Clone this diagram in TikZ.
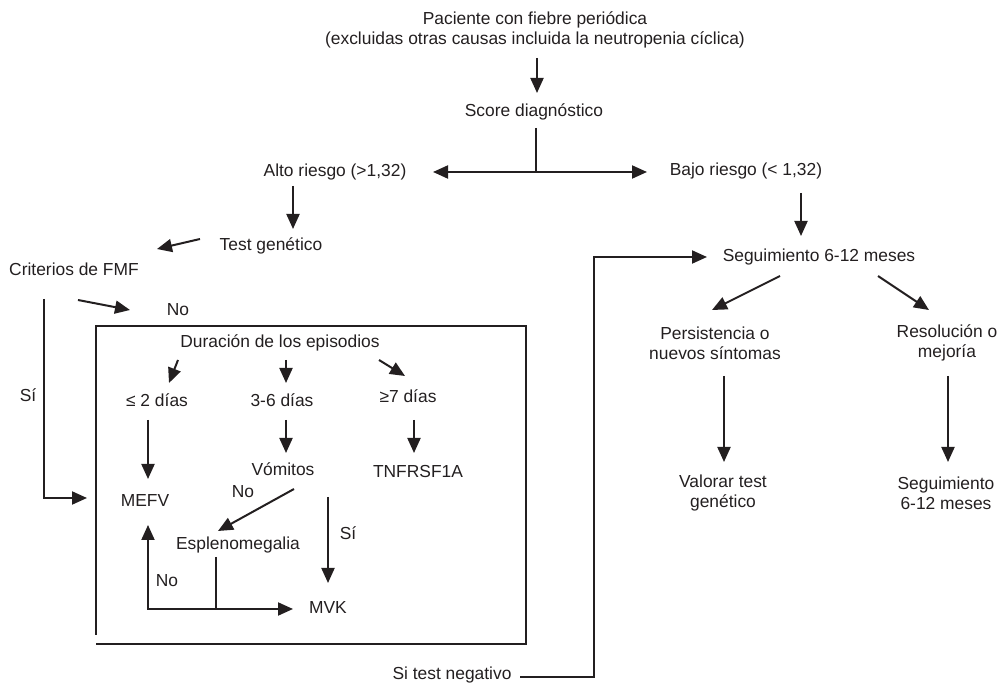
\documentclass[tikz,border=0pt]{standalone}
\usepackage{fontspec}
\setmainfont{Liberation Sans}
\usetikzlibrary{arrows.meta, calc}
\definecolor{ink}{RGB}{35, 31, 32}
\tikzset{
  txt/.style={
    inner sep=0pt, align=center, text=ink,
    font=\fontsize{8.7}{10}\selectfont
  },
  lnk/.style={draw=ink, line width=1pt},
  arr/.style={lnk, -{Triangle[length=7.5pt, width=6.5pt]}},
  darr/.style={lnk, {Triangle[length=7.5pt, width=6.5pt]}-{Triangle[length=7.5pt, width=6.5pt]}},
}

\begin{document}
\begin{tikzpicture}[x=0.5pt, y=-0.5pt]

  \useasboundingbox (0, 0) rectangle (998, 684);

  %% ── Top of the chart ───────────────────────────────────────────────────────

  \node[txt] (pac) at (535, 30)
    {Paciente con fiebre periódica\\(excluidas otras causas incluida la neutropenia cíclica)};
  \node[txt] (score) at (534, 112) {Score diagnóstico};
  \node[txt] (alto)  at (335, 172) {Alto riesgo (>1,32)};
  \node[txt] (bajo)  at (746, 171) {Bajo riesgo (< 1,32)};

  \draw[arr] ($(pac)+(2,28)$) -- ($(score)+(3,-19)$);
  \coordinate (split) at ($(score)+(2,60)$);
  \draw[lnk] ($(score)+(2,16)$) -- (split);
  \draw[darr] ($(alto)+(98,0)$) -- ($(bajo)+(-99,1)$);

  %% ── High risk branch ───────────────────────────────────────────────────────

  \node[txt] (tgen) at (271, 246) {Test genético};
  \node[txt] (crit) at (74, 269)  {Criterios de FMF};
  \node[txt] (no1)  at (178, 310) {No};
  \node[txt] (si1)  at (28, 395)  {Sí};

  \draw[arr] ($(alto)+(-42,14)$) -- ($(tgen)+(22,-17)$);
  \draw[arr] ($(tgen)+(-71,-7)$) -- ($(crit)+(83,-20)$);
  \draw[arr] ($(crit)+(4,31)$) -- ($(no1)+(-48,0)$);

  %% ── Duration box ───────────────────────────────────────────────────────────

  \draw[lnk] (96, 635) -- (96, 326) -- (526, 326) -- (526, 644) -- (96, 644);

  \node[txt] (dur)  at (280, 343) {Duración de los episodios};
  \node[txt] (d2)   at (157, 400) {≤ 2 días};
  \node[txt] (d36)  at (282, 400) {3-6 días};
  \node[txt] (d7)   at (408, 396) {≥7 días};
  \node[txt] (mefv) at (145, 501) {MEFV};
  \node[txt] (vom)  at (283, 469) {Vómitos};
  \node[txt] (tnf)  at (418, 472) {TNFRSF1A};
  \node[txt] (no2)  at (243, 492) {No};
  \node[txt] (esp)  at (238, 545) {Esplenomegalia};
  \node[txt] (si2)  at (348, 533) {Sí};
  \node[txt] (no3)  at (167, 581) {No};
  \node[txt] (mvk)  at (328, 608) {MVK};

  \draw[arr] ($(crit)+(-30,30)$) |- ($(mefv)+(-58,-3)$);

  \draw[arr] ($(dur)+(-102,17)$) -- ($(d2)+(12,-17)$);
  \draw[arr] ($(dur)+(6,17)$)    -- ($(d36)+(4,-17)$);
  \draw[arr] ($(dur)+(99,17)$)   -- ($(d7)+(-3,-20)$);

  \draw[arr] ($(d2)+(-9,20)$)  -- ($(mefv)+(3,-22)$);
  \draw[arr] ($(d36)+(4,20)$)  -- ($(vom)+(3,-16)$);
  \draw[arr] ($(d7)+(6,24)$)   -- ($(tnf)+(-4,-19)$);

  \draw[arr] ($(vom)+(11,20)$) -- ($(esp)+(-20,-14)$);
  \draw[arr] ($(vom)+(45,28)$) -- ($(mvk)+(0,-25)$);

  \coordinate (join) at ($(esp)+(-22,64)$);
  \draw[lnk] ($(esp)+(-22,12)$) -- (join);
  \draw[arr] (join) -- ($(mvk)+(-35,1)$);
  \draw[arr] (join) -| ($(mefv)+(3,24)$);

  %% ── Low risk branch ────────────────────────────────────────────────────────

  \node[txt] (seg)  at (819, 257) {Seguimiento 6-12 meses};
  \node[txt] (pers) at (715, 343) {Persistencia o\\nuevos síntomas};
  \node[txt] (reso) at (947, 343) {Resolución o\\mejoría};
  \node[txt] (val)  at (723, 493) {Valorar test\\genético};
  \node[txt] (seg2) at (946, 493) {Seguimiento\\6-12 meses};
  \node[txt] (neg)  at (452, 675) {Si test negativo};

  \draw[arr] ($(bajo)+(55,22)$) -- ($(seg)+(-18,-21)$);
  \draw[arr] ($(seg)+(-39,19)$) -- ($(pers)+(-3,-33)$);
  \draw[arr] ($(seg)+(59,19)$)  -- ($(reso)+(-18,-33)$);
  \draw[arr] ($(pers)+(9,33)$)  -- ($(val)+(1,-31)$);
  \draw[arr] ($(reso)+(1,33)$)  -- ($(seg2)+(2,-31)$);

  % Negative test back to follow-up
  \draw[arr] ($(neg)+(68,2)$) -- ($(neg)+(142,2)$) |- ($(seg)+(-112,0)$);

\end{tikzpicture}
\end{document}
